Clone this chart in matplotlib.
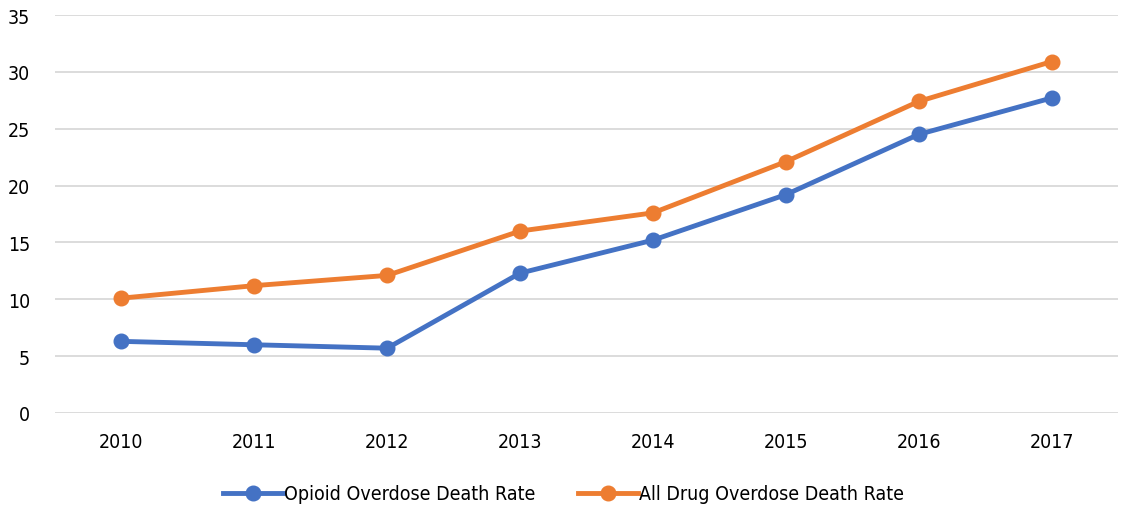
import matplotlib
matplotlib.use("Agg")
import matplotlib.pyplot as plt

plt.rcParams['font.family'] = ['DejaVu Sans']
plt.rcParams['font.stretch'] = 'condensed'

years = ["2010", "2011", "2012", "2013", "2014", "2015", "2016", "2017"]
opioid = [6.3, 6.0, 5.7, 12.3, 15.2, 19.2, 24.5, 27.7]
all_drug = [10.1, 11.2, 12.1, 16.0, 17.6, 22.1, 27.4, 30.9]

fig = plt.figure(figsize=(11.27, 5.10), dpi=100)
ax = fig.add_axes([55/1127, 96/510, (1118-55)/1127, (414-16)/510])

x = range(len(years))
ax.plot(x, opioid, color='#4472C4', lw=3.5, marker='o', ms=10.5, label='Opioid Overdose Death Rate', zorder=3)
ax.plot(x, all_drug, color='#ED7D31', lw=3.5, marker='o', ms=10.5, label='All Drug Overdose Death Rate', zorder=3)

ax.set_xlim(-0.5, len(years) - 0.5)
ax.set_ylim(0, 35)
ax.set_yticks(range(0, 36, 5))
ax.set_xticks(list(x))
ax.set_xticklabels(years)
ax.grid(axis='y', color='#D9D9D9', lw=1.3)
ax.set_axisbelow(True)
for s in ax.spines.values():
    s.set_visible(False)
ax.tick_params(length=0, labelsize=14, colors='#000000')
ax.tick_params(axis='y', pad=18)
ax.tick_params(axis='x', pad=14)

leg = fig.legend(loc='center', bbox_to_anchor=(0.5, 15/510), ncol=2, frameon=False,
                 fontsize=14, handlelength=3.1, handletextpad=0.05, columnspacing=2.2)

fig.savefig("out.png", dpi=100)
